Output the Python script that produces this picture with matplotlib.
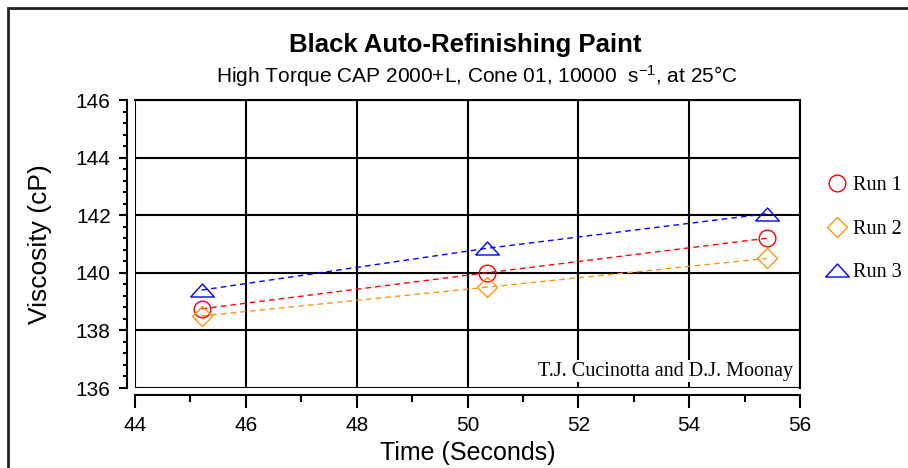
import numpy as np
import matplotlib.pyplot as plt
from matplotlib.lines import Line2D
from matplotlib.patches import Rectangle
from matplotlib.ticker import MultipleLocator

plt.rcParams['font.family'] = ['Liberation Sans', 'DejaVu Sans']
plt.rcParams['mathtext.default'] = 'regular'

# data
time_s = [45.2, 50.35, 55.4]
run1 = [138.75, 140.0, 141.2]
run2 = [138.5, 139.5, 140.5]
run3 = [139.4, 140.85, 142.05]
run_names = ['Run 1', 'Run 2', 'Run 3']
run_colors = ['#ff0000', '#ff9410', '#0000ff']

tri = [(-1, -0.55), (1, -0.55), (0, 0.55), (-1, -0.55)]
run_markers = ['o', 'D', tri]
marker_sizes = [12, 10, 17]

fig = plt.figure(figsize=(9.08, 4.68), dpi=100)
ax = fig.add_axes([135 / 908, 80 / 468, 665 / 908, 288 / 468])

serif = 'Liberation Serif'
handles = []
for vals, name, col, mk, ms in zip([run1, run2, run3], run_names, run_colors, run_markers, marker_sizes):
    ax.plot(time_s, vals, color=col, lw=1, linestyle=(0, (4, 3)), zorder=3)
    ax.plot(time_s, vals, ls='none', marker=mk, ms=ms, mfc='none', mec=col, mew=1, zorder=4)
    handles.append(Line2D([], [], ls='none', marker=mk, ms=ms, mfc='none', mec=col, mew=1, label=name))

ax.set_xlim(44, 56)
ax.set_ylim(136, 146)
ax.xaxis.set_major_locator(MultipleLocator(2))
ax.xaxis.set_minor_locator(MultipleLocator(1))
ax.yaxis.set_major_locator(MultipleLocator(2))
ax.yaxis.set_minor_locator(MultipleLocator(0.4))
ax.grid(which='major', color='black', lw=1.5)
ax.set_axisbelow(True)

for s in ['left', 'bottom', 'top', 'right']:
    ax.spines[s].set_linewidth(1.5)
ax.spines['left'].set_position(('outward', 5.5))
ax.spines['bottom'].set_position(('outward', 5))

ax.tick_params(axis='x', which='major', length=9.5, width=1.5, pad=6, labelsize=15)
ax.tick_params(axis='x', which='minor', length=5, width=1.5)
ax.tick_params(axis='y', which='major', length=6, width=1.5, pad=6, labelsize=15)
ax.tick_params(axis='y', which='minor', length=3, width=1.5)

ax.set_xlabel('Time (Seconds)', fontsize=18, labelpad=4)
ax.set_ylabel('Viscosity (cP)', fontsize=19, labelpad=17)

ax.text(0.989, 0.059, 'T.J. Cucinotta and D.J. Moonay', transform=ax.transAxes,
        ha='right', va='center', family=serif, fontsize=14.5,
        bbox=dict(facecolor='white', edgecolor='none', pad=1), zorder=5)

fig.text(465 / 908, 1 - 45 / 468, 'Black Auto-Refinishing Paint', ha='center', va='center',
         fontsize=18.5, fontweight='bold')
fig.text(477 / 908, 1 - 76 / 468, 'High Torque CAP 2000+L, Cone 01, 10000  s$^{-1}$, at 25\u00b0C',
         ha='center', va='center', fontsize=15)

fig.legend(handles=handles, loc='center left', bbox_to_anchor=(815 / 908, 1 - 229 / 468),
           frameon=False, prop={'family': serif, 'size': 14.5}, handlelength=1.2,
           handletextpad=0.2, labelspacing=1.22, borderpad=0)

fig.patches.append(Rectangle((8 / 908, -0.1), 1.2, 1 - 8 / 468 + 0.1, transform=fig.transFigure,
                             fill=False, edgecolor='#222222', lw=2))

fig.savefig('out.png', dpi=100)
